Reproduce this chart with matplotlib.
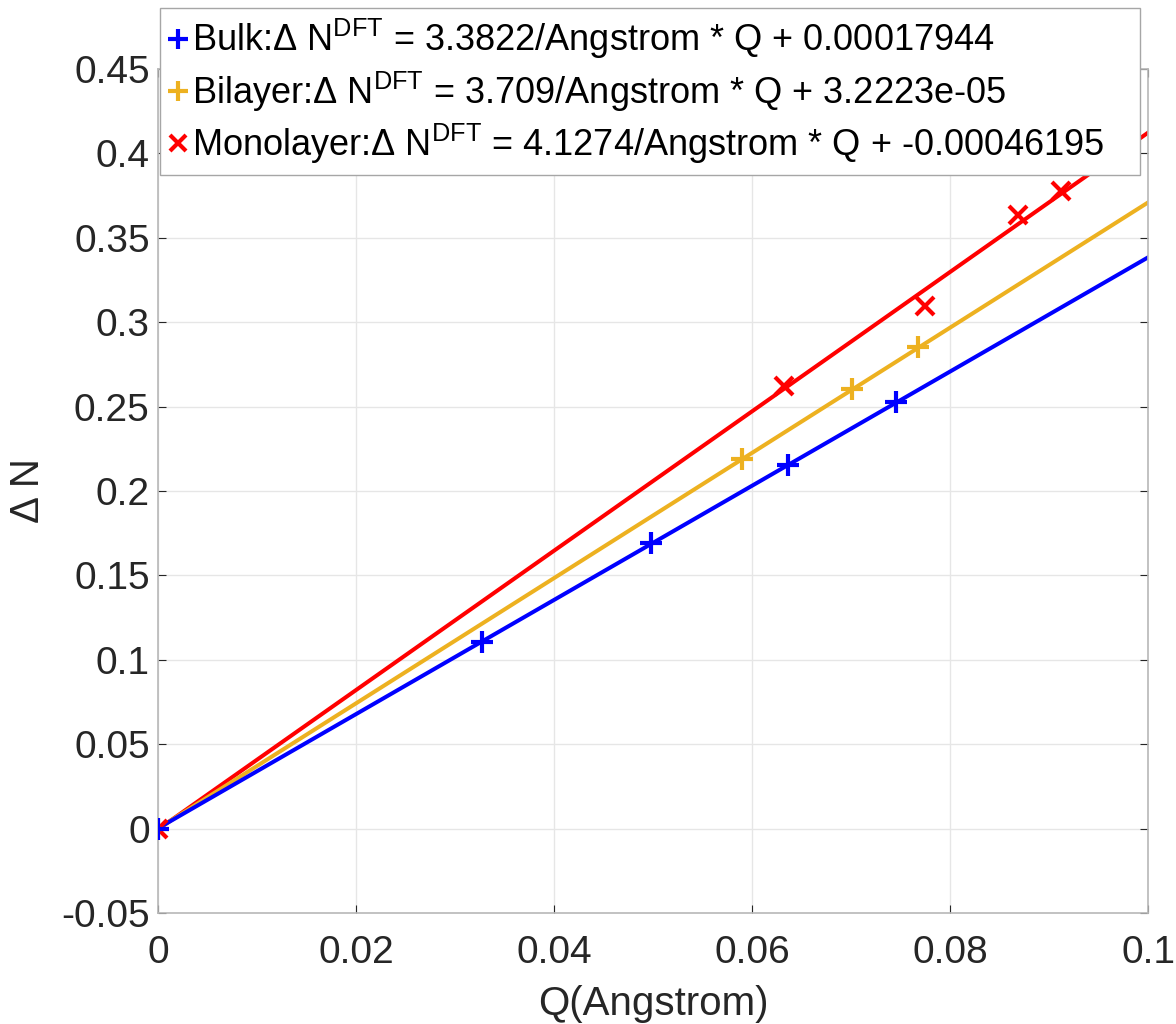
import numpy as np
import matplotlib
matplotlib.use("Agg")
import matplotlib.pyplot as plt
from matplotlib.lines import Line2D

plt.rcParams["font.family"] = ["Liberation Sans", "DejaVu Sans"]
plt.rcParams["mathtext.fontset"] = "custom"
plt.rcParams["mathtext.rm"] = "Liberation Sans"
plt.rcParams["mathtext.it"] = "Liberation Sans:italic"

# DFT charge transfer vs. Q for each stacking
bulk_q = [0, 0.0327, 0.0498, 0.0636, 0.0745]
bulk_dn = [0, 0.1105, 0.1690, 0.2155, 0.2525]
bilayer_q = [0, 0.0590, 0.0701, 0.0768]
bilayer_dn = [0, 0.2190, 0.2605, 0.2855]
mono_q = [0, 0.0632, 0.0775, 0.0869, 0.0912]
mono_dn = [0, 0.2625, 0.3095, 0.3635, 0.3775]

# linear fit coefficients (slope, intercept)
bulk_fit = (3.3822, 0.00017944)
bilayer_fit = (3.709, 3.2223e-05)
mono_fit = (4.1274, -0.00046195)

labels = [
    r"Bulk:Δ N$^{\mathrm{DFT}}$ = 3.3822/Angstrom * Q + 0.00017944",
    r"Bilayer:Δ N$^{\mathrm{DFT}}$ = 3.709/Angstrom * Q + 3.2223e-05",
    r"Monolayer:Δ N$^{\mathrm{DFT}}$ = 4.1274/Angstrom * Q + -0.00046195",
]

blue = (0, 0, 1)
yellow = (0.929, 0.694, 0.125)
red = (1, 0, 0)
dark = (0.15, 0.15, 0.15)

fig = plt.figure(figsize=(11.76, 10.24), dpi=100)
ax = fig.add_axes([0.1344, 0.1084, 0.8418, 0.8242])

xfit = np.array([0, 0.1])
series = [
    (mono_q, mono_dn, mono_fit, red, "x", 13),
    (bilayer_q, bilayer_dn, bilayer_fit, yellow, "+", 16),
    (bulk_q, bulk_dn, bulk_fit, blue, "+", 16),
]
for q, dn, (k, b), c, m, ms in series:
    ax.plot(xfit, k * xfit + b, color=c, lw=2.9, zorder=2)
    ax.plot(q, dn, ls="none", marker=m, ms=ms, mew=3, color=c, zorder=3)

ax.set_xlim(0, 0.1)
ax.set_ylim(-0.05, 0.45)
ax.set_xticks(np.arange(0, 0.101, 0.02))
ax.set_xticklabels(["0", "0.02", "0.04", "0.06", "0.08", "0.1"])
ax.set_yticks(np.arange(-0.05, 0.451, 0.05))
ax.set_yticklabels(["-0.05", "0", "0.05", "0.1", "0.15", "0.2", "0.25",
                    "0.3", "0.35", "0.4", "0.45"])
ax.grid(True, color=(0.9, 0.9, 0.9), lw=1)
ax.set_axisbelow(True)
ax.tick_params(direction="in", length=6, labelsize=28, colors=dark,
               top=True, right=True)
ax.tick_params(axis="x", pad=16)
ax.tick_params(axis="y", pad=6)
for s in ax.spines.values():
    s.set_color((0.72, 0.72, 0.72))
    s.set_linewidth(1.2)

ax.set_xlabel("Q(Angstrom)", fontsize=29, color=dark, labelpad=10)
ax.set_ylabel("Δ N", fontsize=29, color=dark, labelpad=10)

handles = [
    Line2D([], [], ls="none", marker="+", ms=15, mew=3, color=blue),
    Line2D([], [], ls="none", marker="+", ms=15, mew=3, color=yellow),
    Line2D([], [], ls="none", marker="x", ms=11, mew=3, color=red),
]
leg = fig.legend(handles, labels, loc="upper left",
                 bbox_to_anchor=(0.136, 0.832, 0.833, 0.160), mode="expand",
                 fontsize=26, frameon=True, fancybox=False, framealpha=1,
                 borderpad=0.25, handlelength=0.5, handletextpad=0.15,
                 labelspacing=0.22, borderaxespad=0)
leg.get_frame().set_edgecolor((0.65, 0.65, 0.65))
leg.get_frame().set_linewidth(1.0)
for t in leg.get_texts():
    t.set_color("black")

fig.savefig("out.png", dpi=100)
